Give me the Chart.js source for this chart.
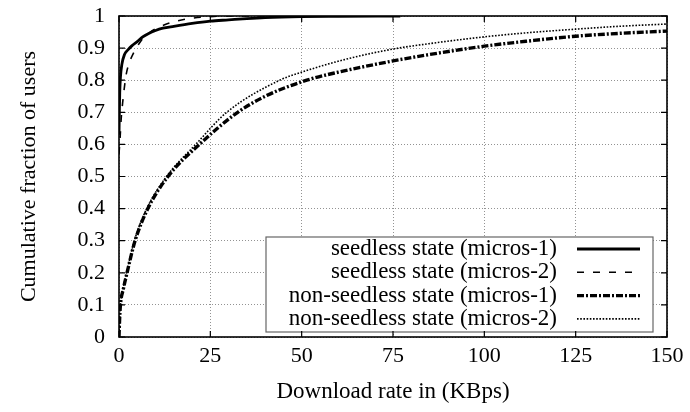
<!DOCTYPE html>
<html>
<head>
<meta charset="utf-8">
<script src="https://cdn.jsdelivr.net/npm/chart.js@4/dist/chart.umd.min.js"></script>
<style>
  html, body { margin: 0; padding: 0; background: #fff; }
  #wrap { width: 690px; height: 412px; }
</style>
</head>
<body>
<div id="wrap"><canvas id="cdf"></canvas></div>
<script>
// download rate (KBps) and cumulative fraction
const seedless1X = [0, 0.1, 0.2, 0.4, 0.8, 1.5, 2.5, 3.5, 5, 6.5, 8, 10, 12, 15, 20, 25, 30, 35, 40, 50, 60, 77];
const seedless1Y = [0.63, 0.70, 0.76, 0.81, 0.85, 0.88, 0.895, 0.907, 0.92, 0.935, 0.945, 0.955, 0.962, 0.968, 0.977, 0.984, 0.988, 0.992, 0.995, 0.998, 0.999, 1.0];

const seedless2X = [0, 0.3, 0.6, 1, 1.5, 2, 3, 4, 5, 6.5, 8, 10, 13, 16, 20, 25, 30, 45, 60];
const seedless2Y = [0.57, 0.62, 0.68, 0.73, 0.78, 0.82, 0.86, 0.885, 0.905, 0.93, 0.945, 0.96, 0.975, 0.985, 0.993, 0.998, 1.0, 1.0, 1.0];

const nonSeedless1X = [0, 0.15, 0.4, 1.2, 2.2, 4.4, 7.9, 13.4, 22, 32.5, 40, 51.4, 60, 75, 85, 100, 112, 125, 137, 150];
const nonSeedless1Y = [0, 0.05, 0.1, 0.15, 0.2, 0.3, 0.4, 0.5, 0.6, 0.7, 0.75, 0.8, 0.825, 0.86, 0.88, 0.906, 0.922, 0.937, 0.946, 0.953];

const nonSeedless2X = [0, 0.15, 0.4, 1.1, 2.1, 4.2, 7.6, 13, 21, 29.5, 44, 50, 62, 75, 85, 100, 112, 125, 137, 150];
const nonSeedless2Y = [0, 0.05, 0.1, 0.15, 0.2, 0.3, 0.4, 0.5, 0.6, 0.7, 0.8, 0.825, 0.865, 0.897, 0.914, 0.935, 0.948, 0.959, 0.968, 0.975];

const seriesLabels = [
    'seedless state (micros-1)',
    'seedless state (micros-2)',
    'non-seedless state (micros-1)',
    'non-seedless state (micros-2)'
];

const FONT = '"Liberation Serif", "DejaVu Serif", serif';

function toPoints(xs, ys) {
    return xs.map((x, i) => ({ x: x, y: ys[i] }));
}

const styles = [
    { width: 2.8, dash: [] },
    { width: 1.6, dash: [7, 9] },
    { width: 3.4, dash: [7, 2, 2, 2] },
    { width: 1.6, dash: [1.6, 1.6] }
];

const datasets = [
    toPoints(seedless1X, seedless1Y),
    toPoints(seedless2X, seedless2Y),
    toPoints(nonSeedless1X, nonSeedless1Y),
    toPoints(nonSeedless2X, nonSeedless2Y)
].map((pts, i) => ({
    label: seriesLabels[i],
    data: pts,
    borderColor: '#000',
    borderWidth: styles[i].width,
    borderDash: styles[i].dash,
    pointRadius: 0,
    fill: false,
    cubicInterpolationMode: 'monotone'
}));

// gnuplot style key box in the lower right corner, plus border and inward ticks
const keyBox = {
    id: 'keyBox',
    afterDatasetsDraw(chart) {
        const ctx = chart.ctx;
        const area = chart.chartArea;
        const right = area.right - 14;
        const left = area.left + 147;
        const bottom = area.bottom - 5;
        const top = bottom - 95;

        ctx.save();
        ctx.fillStyle = '#fff';
        ctx.fillRect(left, top, right - left, bottom - top);
        ctx.strokeStyle = '#666';
        ctx.lineWidth = 1.2;
        ctx.strokeRect(left, top, right - left, bottom - top);

        ctx.font = '23px ' + FONT;
        ctx.fillStyle = '#000';
        ctx.textAlign = 'right';
        ctx.textBaseline = 'middle';
        seriesLabels.forEach((label, i) => {
            const y = top + 12 + i * 23.3;
            ctx.fillText(label, right - 96, y);
            ctx.beginPath();
            ctx.lineWidth = styles[i].width;
            ctx.setLineDash(styles[i].dash);
            ctx.strokeStyle = '#000';
            ctx.moveTo(right - 76, y);
            ctx.lineTo(right - 13, y);
            ctx.stroke();
        });
        ctx.restore();
    },
    afterDraw(chart) {
        const ctx = chart.ctx;
        const a = chart.chartArea;
        const xs = chart.scales.x;
        const ys = chart.scales.y;
        ctx.save();
        ctx.strokeStyle = '#000';
        ctx.lineWidth = 1.2;
        ctx.beginPath();
        xs.ticks.forEach(t => {
            const px = xs.getPixelForValue(t.value);
            ctx.moveTo(px, a.bottom); ctx.lineTo(px, a.bottom - 6);
            ctx.moveTo(px, a.top); ctx.lineTo(px, a.top + 6);
        });
        ys.ticks.forEach(t => {
            const py = ys.getPixelForValue(t.value);
            ctx.moveTo(a.left, py); ctx.lineTo(a.left + 6, py);
            ctx.moveTo(a.right, py); ctx.lineTo(a.right - 6, py);
        });
        ctx.stroke();
        ctx.lineWidth = 1.6;
        ctx.strokeRect(a.left, a.top, a.right - a.left, a.bottom - a.top);
        ctx.restore();
    }
};

const ctx = document.getElementById('cdf').getContext('2d');
new Chart(ctx, {
    type: 'line',
    data: { datasets: datasets },
    options: {
        responsive: true,
        maintainAspectRatio: false,
        animation: false,
        layout: { padding: { left: 0, top: 16, right: 23, bottom: 0 } },
        plugins: {
            legend: { display: false },
            tooltip: { enabled: false }
        },
        scales: {
            x: {
                type: 'linear',
                min: 0,
                max: 150,
                afterFit: (scale) => { scale.height = 75; },
                ticks: {
                    stepSize: 25,
                    color: '#000',
                    padding: 6,
                    maxRotation: 0,
                    font: { family: FONT, size: 22 }
                },
                grid: {
                    color: '#777',
                    lineWidth: 0.8,
                    drawTicks: false
                },
                border: { display: false, dash: [1, 2] },
                title: {
                    display: true,
                    text: 'Download rate in (KBps)',
                    color: '#000',
                    font: { family: FONT, size: 23 },
                    padding: { top: 0, bottom: 6 }
                }
            },
            y: {
                min: 0,
                max: 1,
                afterFit: (scale) => {
                    scale.width = 119;
                    scale.paddingTop = 0;
                    scale.paddingBottom = 0;
                },
                ticks: {
                    stepSize: 0.1,
                    color: '#000',
                    padding: 14,
                    font: { family: FONT, size: 22 },
                    callback: (v) => String(Number(v.toFixed(1)))
                },
                grid: {
                    color: '#777',
                    lineWidth: 0.8,
                    drawTicks: false
                },
                border: { display: false, dash: [1, 2] },
                title: {
                    display: true,
                    text: 'Cumulative fraction of users',
                    color: '#000',
                    font: { family: FONT, size: 22 },
                    padding: { top: 16, bottom: 0 }
                }
            }
        }
    },
    plugins: [keyBox]
});
</script>
</body>
</html>
